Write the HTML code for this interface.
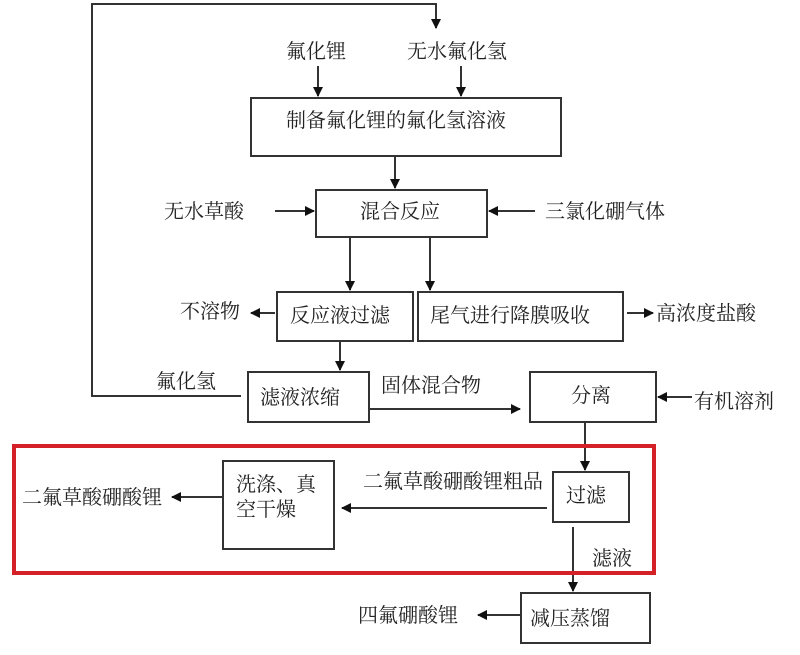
<!DOCTYPE html>
<html><head><meta charset="utf-8"><style>
html,body{margin:0;padding:0;background:#fff;}
svg text{font-family:"Liberation Serif","Noto Serif CJK SC",serif;fill:#222;font-size:20px;}
</style></head><body>
<svg width="800" height="650" viewBox="0 0 800 650" xmlns="http://www.w3.org/2000/svg">
<defs><marker id="a" markerWidth="10" markerHeight="10" refX="9" refY="5" orient="auto" markerUnits="userSpaceOnUse"><path d="M0,0 L10,5 L0,10 z" fill="#111"/></marker></defs>
<g stroke="#333" stroke-width="2" fill="none">
<polyline points="241,396 92,396 92,4 436,4 436,28" marker-end="url(#a)"/>
<line x1="318" y1="66" x2="318" y2="96" marker-end="url(#a)"/>
<line x1="461" y1="66" x2="461" y2="96" marker-end="url(#a)"/>
<rect x="251" y="98" width="310" height="58"/>
<line x1="395" y1="156" x2="395" y2="188" marker-end="url(#a)"/>
<rect x="316" y="190" width="171" height="47"/>
<line x1="275" y1="211" x2="314" y2="211" marker-end="url(#a)"/>
<line x1="535" y1="211" x2="489" y2="211" marker-end="url(#a)"/>
<line x1="350" y1="237" x2="350" y2="290" marker-end="url(#a)"/>
<line x1="430" y1="237" x2="430" y2="290" marker-end="url(#a)"/>
<rect x="277" y="292" width="136" height="49"/>
<rect x="418" y="292" width="205" height="49"/>
<line x1="275" y1="313" x2="251" y2="313" marker-end="url(#a)"/>
<line x1="627" y1="313" x2="653" y2="313" marker-end="url(#a)"/>
<line x1="340" y1="341" x2="340" y2="370" marker-end="url(#a)"/>
<rect x="248" y="372" width="121" height="50"/>
<line x1="369" y1="409" x2="520" y2="409" marker-end="url(#a)"/>
<rect x="530" y="372" width="126" height="50"/>
<line x1="692" y1="397" x2="658" y2="397" marker-end="url(#a)"/>
<line x1="585" y1="422" x2="585" y2="470" marker-end="url(#a)"/>
<rect x="553" y="472" width="76" height="50"/>
<rect x="223" y="461" width="111" height="88"/>
<line x1="547" y1="508" x2="342" y2="508" marker-end="url(#a)"/>
<line x1="223" y1="497" x2="172" y2="497" marker-end="url(#a)"/>
<line x1="573" y1="527" x2="573" y2="591" marker-end="url(#a)"/>
<rect x="521" y="593" width="129" height="50"/>
<line x1="520" y1="615" x2="478" y2="615" marker-end="url(#a)"/>
</g>
<rect x="14" y="446" width="640" height="127" fill="none" stroke="#d42027" stroke-width="4"/>
<text x="286" y="58">氟化锂</text>
<text x="407" y="58">无水氟化氢</text>
<text x="286" y="127" font-size="21">制备氟化锂的氟化氢溶液</text>
<text x="360" y="218">混合反应</text>
<text x="164" y="218">无水草酸</text>
<text x="545" y="218">三氯化硼气体</text>
<text x="180" y="318" font-size="17">不溶物</text>
<text x="290" y="322">反应液过滤</text>
<text x="430" y="322">尾气进行降膜吸收</text>
<text x="656" y="320">高浓度盐酸</text>
<text x="156" y="388">氟化氢</text>
<text x="260" y="404">滤液浓缩</text>
<text x="381" y="392">固体混合物</text>
<text x="571" y="402">分离</text>
<text x="694" y="408">有机溶剂</text>
<text x="236" y="491">洗涤、真</text>
<text x="236" y="516">空干燥</text>
<text x="363" y="488" font-size="18">二氟草酸硼酸锂粗品</text>
<text x="566" y="502">过滤</text>
<text x="22" y="504">二氟草酸硼酸锂</text>
<text x="592" y="565">滤液</text>
<text x="530" y="625">减压蒸馏</text>
<text x="358" y="622">四氟硼酸锂</text>
</svg>
</body></html>
